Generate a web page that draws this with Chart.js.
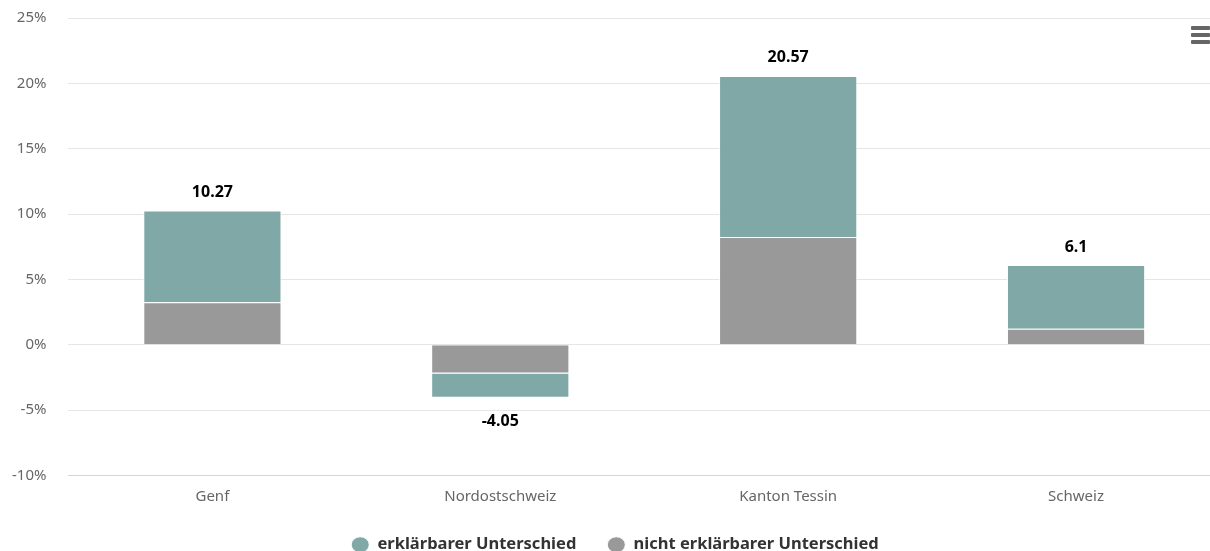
<!DOCTYPE html>
<html>
<head>
<meta charset="utf-8">
<script src="https://cdn.jsdelivr.net/npm/chart.js@4/dist/chart.umd.min.js"></script>
<style>
  html, body { margin: 0; padding: 0; background: #fff; overflow: hidden; }
  #wrap { position: absolute; left: 10px; top: 0; width: 1210px; height: 575px; }
  #menu { position: absolute; left: 1191px; top: 26px; width: 19px; }
  #menu div { height: 4px; background: #666; margin-bottom: 3px; border-radius: 1px; }
</style>
</head>
<body>
<div id="wrap"><canvas id="c"></canvas></div>
<div id="menu"><div></div><div></div><div></div></div>
<script>
// Lohnunterschied nach Region, aufgeteilt in erklärbaren und nicht erklärbaren Anteil (in %)
const categories = ['Genf', 'Nordostschweiz', 'Kanton Tessin', 'Schweiz'];
const nichtErklaerbar = [3.25, -2.2, 8.25, 1.23];
const erklaerbar = [7.02, -1.85, 12.32, 4.87];
const yTicks = [-10, -5, 0, 5, 10, 15, 20, 25];

const FONT = '"Noto Sans", sans-serif';

// Summe je Region, oberhalb (bzw. unterhalb) des Stapels angeschrieben
const totalLabels = {
  id: 'totalLabels',
  afterDatasetsDraw(chart) {
    const { ctx, scales: { x, y } } = chart;
    ctx.save();
    ctx.font = 'bold 16px ' + FONT;
    ctx.fillStyle = '#000';
    ctx.textAlign = 'center';
    ctx.textBaseline = 'middle';
    categories.forEach((cat, i) => {
      const total = nichtErklaerbar[i] + erklaerbar[i];
      const txt = String(Math.round(total * 100) / 100);
      const px = x.getPixelForValue(i);
      const py = y.getPixelForValue(total) + (total >= 0 ? -18 : 24);
      ctx.fillText(txt, px, py);
    });
    ctx.restore();
  }
};

// Legende näher an die Achsenbeschriftung rücken
const legendShift = {
  id: 'legendShift',
  afterLayout(chart) {
    const lg = chart.legend;
    if (!lg) return;
    const dy = -12;
    lg.top += dy; lg.bottom += dy;
  }
};

new Chart(document.getElementById('c'), {
  type: 'bar',
  data: {
    labels: categories,
    datasets: [
      {
        label: 'nicht erklärbarer Unterschied',
        data: nichtErklaerbar,
        backgroundColor: '#999999',
        borderColor: '#ffffff',
        borderWidth: 1,
        categoryPercentage: 1,
        barPercentage: 0.48
      },
      {
        label: 'erklärbarer Unterschied',
        data: erklaerbar,
        backgroundColor: '#7fa8a7',
        borderColor: '#ffffff',
        borderWidth: 1,
        categoryPercentage: 1,
        barPercentage: 0.48
      }
    ]
  },
  options: {
    responsive: true,
    maintainAspectRatio: false,
    animation: false,
    layout: { padding: { left: 0, right: 0, top: 18, bottom: 0 } },
    plugins: {
      tooltip: { enabled: false },
      legend: {
        position: 'bottom',
        reverse: true,
        labels: {
          usePointStyle: true,
          pointStyle: 'circle',
          boxWidth: 11.3,
          boxHeight: 11.3,
          pointStyleWidth: 18,
          padding: 31,
          color: '#333',
          font: { family: FONT, size: 16.5, weight: 'bold' }
        }
      }
    },
    scales: {
      x: {
        stacked: true,
        grid: { display: false, drawTicks: false },
        border: { display: false },
        ticks: { color: '#666', padding: 12, font: { family: FONT, size: 15 } }
      },
      y: {
        stacked: true,
        min: -10,
        max: 25,
        afterBuildTicks(axis) { axis.ticks = yTicks.map(v => ({ value: v })); },
        grid: {
          drawTicks: true,
          tickLength: 20,
          tickColor: 'rgba(0,0,0,0)',
          color: ctx => (ctx.tick && ctx.tick.value === -10 ? '#ccd6eb' : '#e6e6e6')
        },
        border: { display: false },
        ticks: {
          color: '#666',
          padding: 2,
          font: { family: FONT, size: 15 },
          callback: v => v + '%'
        }
      }
    }
  },
  plugins: [totalLabels, legendShift]
});
</script>
</body>
</html>
